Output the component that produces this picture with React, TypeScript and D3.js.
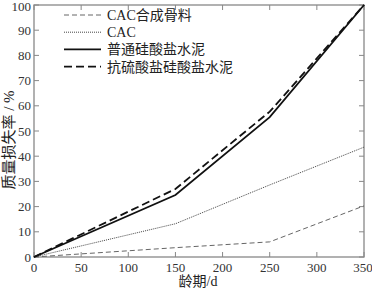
import React from "react";
import * as d3 from "d3";

const days = [0, 150, 250, 350];
const cacAggregate = [0, 3.7, 6.0, 20.3];
const cac = [0, 13.2, 28.6, 43.6];
const opc = [0, 24.6, 55.5, 100];
const srpc = [0, 27.0, 57.7, 100];
const xTicks = [0, 50, 100, 150, 200, 250, 300, 350];
const yTicks = [0, 10, 20, 30, 40, 50, 60, 70, 80, 90, 100];

const seriesNames = ["CAC合成骨料", "CAC", "普通硅酸盐水泥", "抗硫酸盐硅酸盐水泥"];
const seriesValues = [cacAggregate, cac, opc, srpc];
const seriesStyles = [
  { stroke: "#666", width: 1, dash: "5,3" },
  { stroke: "#444", width: 1, dash: "1,1" },
  { stroke: "#111", width: 1.8, dash: "" },
  { stroke: "#111", width: 1.8, dash: "8,4" },
];

export default function App() {
  const W = 372, H = 288;
  const L = 34, R = 364, T = 5, B = 257;
  const x = d3.scaleLinear().domain([0, 350]).range([L, R]);
  const y = d3.scaleLinear().domain([0, 100]).range([B, T]);
  const line = d3.line<number>().x((_, i) => x(days[i])).y((d) => y(d));
  const num = { fontFamily: "Liberation Serif, Times New Roman, serif" };
  const cjk = { fontFamily: "Liberation Serif, Noto Sans CJK SC, serif" };
  const frame = "#888";
  return (
    <svg width={W} height={H} style={{ position: "absolute", left: 0, top: 0, background: "#fff" }}>
      <rect x={L} y={T} width={R - L} height={B - T} fill="none" stroke={frame} strokeWidth={1.3} />
      {yTicks.map((t) => (
        <g key={"y" + t}>
          <line x1={L} x2={L + 5} y1={y(t)} y2={y(t)} stroke={frame} />
          <line x1={R} x2={R - 5} y1={y(t)} y2={y(t)} stroke={frame} />
          <text x={L - 3} y={t === 100 ? y(t) + 5.5 : y(t) + 4.5} fontSize={13} textAnchor="end" fill="#333" style={num}>{t}</text>
        </g>
      ))}
      {xTicks.map((t) => (
        <g key={"x" + t}>
          <line x1={x(t)} x2={x(t)} y1={B} y2={B - 5} stroke={frame} />
          <line x1={x(t)} x2={x(t)} y1={T} y2={T + 5} stroke={frame} />
          <text x={t === 350 ? x(t) - 1 : x(t)} y={B + 15} fontSize={13} textAnchor="middle" fill="#333" style={num}>{t}</text>
        </g>
      ))}
      {seriesValues.map((vals, i) => (
        <path key={"s" + i} d={line(vals) || ""} fill="none" stroke={seriesStyles[i].stroke}
          strokeWidth={seriesStyles[i].width} strokeDasharray={seriesStyles[i].dash} />
      ))}
      {seriesNames.map((n, i) => (
        <g key={"l" + i}>
          <line x1={64} x2={101} y1={15 + i * 17.2} y2={15 + i * 17.2} stroke={seriesStyles[i].stroke}
            strokeWidth={seriesStyles[i].width} strokeDasharray={seriesStyles[i].dash} />
          <text x={107} y={15 + i * 17.2 + 5} fontSize={14} fill="#222" style={cjk}>{n}</text>
        </g>
      ))}
      <text x={198} y={286} fontSize={14} textAnchor="middle" fill="#222" style={cjk}>龄期/d</text>
      <text transform={`translate(14,140) rotate(-90)`} fontSize={15} textAnchor="middle" fill="#222" style={cjk}>质量损失率 / %</text>
    </svg>
  );
}
